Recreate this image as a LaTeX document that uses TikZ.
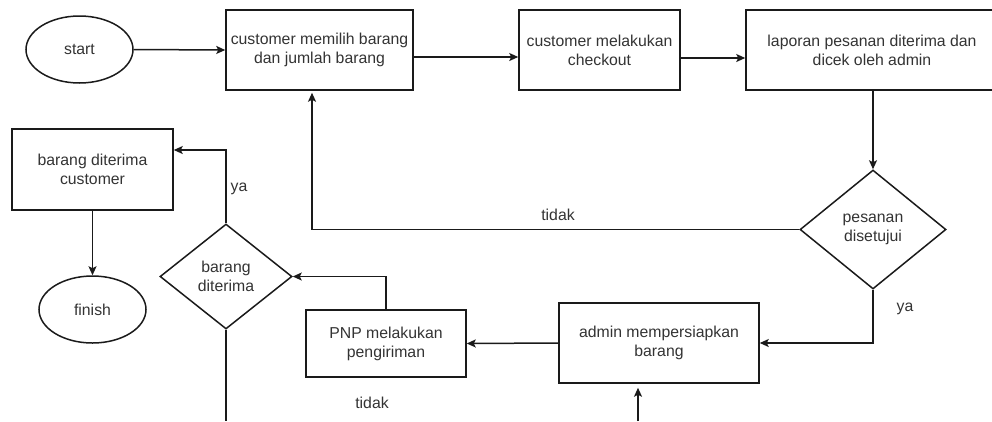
\documentclass[tikz,border=0pt]{standalone}
\usepackage{fontspec}
\setmainfont{Liberation Sans}
\usetikzlibrary{shapes.geometric,arrows.meta}
\definecolor{txt}{HTML}{333333}
\definecolor{ln}{HTML}{1A1A1A}

\begin{document}
\begin{tikzpicture}[x=1pt,y=-1pt,
  every node/.style={font=\fontsize{15.8}{19}\selectfont, text=txt},
  box/.style={draw=ln, line width=1.5pt, rectangle, align=center, inner sep=2pt},
  term/.style={draw=ln, line width=1.5pt, ellipse, inner sep=0pt},
  dec/.style={draw=ln, line width=1.5pt, diamond, align=center, inner sep=0pt},
  link/.style={draw=ln, line width=1.5pt, -{Stealth[length=9pt, width=8pt, inset=2pt]}},
  plain/.style={draw=ln, line width=1.5pt},
  lbl/.style={inner sep=0pt}]

\useasboundingbox (0,0) rectangle (992,421);
\clip (0,0) rectangle (992,421);

% terminals
\node[term, minimum width=107pt, minimum height=67pt] (start) at (79.5,49.5) {start};
\node[term, minimum width=107pt, minimum height=67pt] (finish) at (92.5,309.5) {finish};

% process steps
\node[box, minimum width=187pt, minimum height=80pt] (pilih) at (319.5,50) {customer memilih barang\\dan jumlah barang};
\node[box, minimum width=161pt, minimum height=80pt] (checkout) at (599.5,50) {customer melakukan\\checkout};
\node[box, minimum width=252pt, minimum height=80pt] (laporan) at (872,50) {laporan pesanan diterima dan\\dicek oleh admin};
\node[box, minimum width=200pt, minimum height=80pt] (siap) at (659,343) {admin mempersiapkan\\barang};
\node[box, minimum width=160pt, minimum height=67pt] (kirim) at (386,343.5) {PNP melakukan\\pengiriman};
\node[box, minimum width=161pt, minimum height=81pt] (terima) at (92.5,169.5) {barang diterima\\customer};

% decisions
\node[dec, minimum width=146pt, minimum height=119pt] (setuju) at (873,229.5) {pesanan\\disetujui};
\node[dec, minimum width=132pt, minimum height=105pt] (diterima) at (226,276.5) {barang\\diterima};

% loose ends at the lower edge
\coordinate (masuk) at (638,421);
\coordinate (keluar) at (226,421);

% connectors
\draw[link] (start.east) -- (pilih.west);
\draw[link] ([yshift=-7pt]pilih.east) -- ([yshift=-7pt]checkout.west);
\draw[link] ([yshift=-8pt]checkout.east) -- ([yshift=-8pt]laporan.west);
\draw[link] (laporan.south -| setuju.north) -- (setuju.north);
\draw[link, shorten >=2pt] (setuju.west) -| ([xshift=-7.5pt]pilih.south);
\draw[link] (setuju.south) |- (siap.east);
\draw[link, shorten >=4pt] (masuk) -- (masuk |- siap.south);
\draw[link] (siap.west) -- (kirim.east);
\draw[link] (kirim.north) |- (diterima.east);
\draw[link] (diterima.north) |- ([yshift=19.5pt]terima.east);
\draw[link] (terima.south) -- (finish.north);
\draw[plain] (diterima.south) -- (keluar);

% branch labels
\node[lbl] (tidak1) at (558,215) {tidak};
\node[lbl] (ya1) at (905,309) {ya};
\node[lbl] (ya2) at (239,189) {ya};
\node[lbl] (tidak2) at (372,403) {tidak};
\end{tikzpicture}
\end{document}
